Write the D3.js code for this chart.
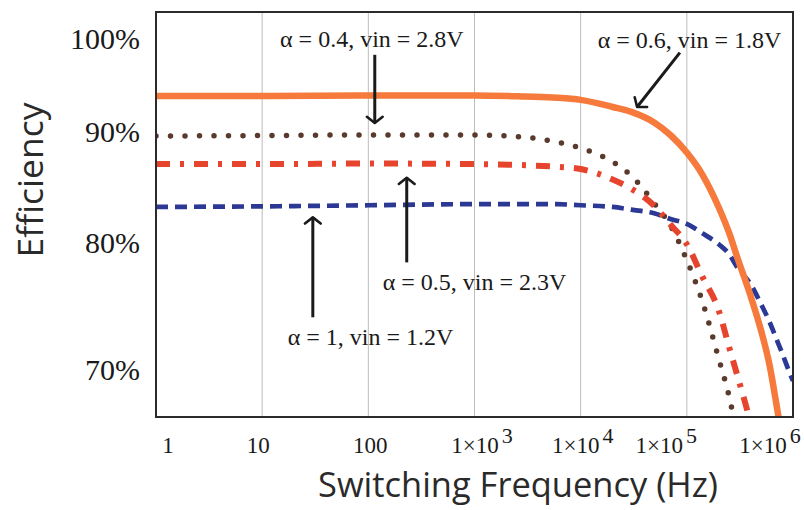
<!DOCTYPE html>
<html>
<head>
<meta charset="utf-8">
<script src="https://cdn.jsdelivr.net/npm/d3@7"></script>
<style>
  body { margin: 0; background: #fff; }
  svg { display: block; }
</style>
</head>
<body>
<svg id="chart" width="804" height="510"></svg>
<script>
// Efficiency (%) versus switching frequency (Hz) for four operating points.

// alpha = 0.6, vin = 1.8V  (solid orange)
const freqAlpha06 = [1, 10, 100, 1000, 3000, 6000, 1e4, 2e4, 3e4, 5e4, 7e4, 1e5, 1.4e5, 2e5, 2.5e5, 3e5, 4e5, 5e5, 6e5, 7e5, 7.4e5];
const effAlpha06  = [94.15, 94.15, 94.2, 94.2, 94.1, 94.0, 93.8, 93.15, 92.7, 91.7, 90.6, 89.0, 87.0, 84.0, 81.7, 79.4, 75.9, 72.8, 69.7, 66.0, 64.6];

// alpha = 0.4, vin = 2.8V  (dotted brown)
const freqAlpha04 = [1, 10, 100, 1000, 3000, 6000, 1e4, 2e4, 3e4, 5e4, 7e4, 1e5, 1.4e5, 2e5, 2.5e5, 2.8e5];
const effAlpha04  = [90.5, 90.55, 90.6, 90.6, 90.4, 89.95, 89.4, 88.15, 86.9, 84.3, 82.35, 79.2, 75.45, 70.2, 66.8, 64.6];

// alpha = 0.5, vin = 2.3V  (dash-dot red)
const freqAlpha05 = [1, 10, 100, 1000, 3000, 6000, 1e4, 2e4, 3e4, 5e4, 7e4, 1e5, 1.4e5, 2e5, 2.5e5, 3e5, 3.5e5, 3.8e5, 4e5];
const effAlpha05  = [87.95, 87.95, 88.0, 87.95, 87.85, 87.7, 87.5, 86.55, 85.7, 84.1, 82.45, 80.65, 77.7, 74.6, 71.3, 68.65, 66.4, 65.15, 64.4];

// alpha = 1, vin = 1.2V  (dashed blue)
const freqAlpha1 = [1, 10, 100, 1000, 3000, 6000, 1e4, 2e4, 3e4, 5e4, 7e4, 1e5, 1.4e5, 2e5, 2.5e5, 3e5, 4e5, 5e5, 6e5, 7e5, 8e5, 9e5, 1e6];
const effAlpha1  = [84.05, 84.1, 84.2, 84.3, 84.3, 84.3, 84.2, 84.05, 83.8, 83.45, 82.95, 82.5, 81.65, 80.65, 79.75, 78.5, 77.0, 75.2, 73.6, 72.0, 70.6, 69.3, 68.2];

// Axis ticks
const xTickValues = [1, 10, 100, 1e3, 1e4, 1e5, 1e6];
const xTickBase   = ["1", "10", "100", "1\u00d710", "1\u00d710", "1\u00d710", "1\u00d710"];
const xTickSup    = ["", "", "", "3", "4", "5", "6"];
const xGridValues = [10, 100, 1e3, 1e4, 1e5];
const yTickValues = [100, 90, 80, 70];
const yTickLabels = ["100%", "90%", "80%", "70%"];

// Callouts: label text, label anchor, arrow start and arrow tip (freq Hz, efficiency %)
const calloutText   = ["\u03b1 = 0.4, vin = 2.8V", "\u03b1 = 0.6, vin = 1.8V", "\u03b1 = 0.5, vin = 2.3V", "\u03b1 = 1, vin = 1.2V"];
const calloutLabel  = [[108, 98.6], [1.06e5, 98.5], [1000, 76.5], [105, 71.5]];
const calloutFrom   = [[115, 97.9], [8.6e4, 98.1], [230, 79.0], [30, 74.0]];
const calloutTip    = [[115, 91.7], [3.4e4, 93.15], [230, 86.7], [30, 83.1]];

// ---- layout ----
const plot = { left: 156, right: 793, top: 12, bottom: 417 };
const xLabelShift = [12, -4, 2, 7.5, 2, -20.5, -23];   // tick label nudges (px)
const yLabelShift = [7, -10, -8, 9];

const svg = d3.select("#chart");

const x = d3.scaleLog().domain([1, 1e6]).range([plot.left, plot.right]);
const y = d3.scaleLinear().domain([64.92, 101.8]).range([plot.bottom, plot.top]);

svg.append("rect").attr("width", 804).attr("height", 510).attr("fill", "#fff");

svg.append("defs").append("clipPath").attr("id", "plot-clip")
  .append("rect")
  .attr("x", plot.left).attr("y", plot.top)
  .attr("width", plot.right - plot.left).attr("height", plot.bottom - plot.top);

// vertical decade grid
svg.append("g").selectAll("line").data(xGridValues).join("line")
  .attr("x1", d => x(d)).attr("x2", d => x(d))
  .attr("y1", plot.top).attr("y2", plot.bottom)
  .attr("stroke", "#bdbdbd").attr("stroke-width", 1);

// curves
const series = [
  { f: freqAlpha1,  e: effAlpha1,  color: "#2c3994", width: 4.7, dash: "12 7",  cap: "butt" },
  { f: freqAlpha04, e: effAlpha04, color: "#5a3a2c", width: 5.5, dash: "0 14.5", cap: "round" },
  { f: freqAlpha05, e: effAlpha05, color: "#e6442d", width: 6,   dash: "14 10 4 10", cap: "butt" },
  { f: freqAlpha06, e: effAlpha06, color: "#f57a3b", width: 6.5, dash: null,  cap: "butt" }
];

const line = d3.line()
  .x(d => x(d[0]))
  .y(d => y(d[1]))
  .curve(d3.curveMonotoneX);

const curves = svg.append("g").attr("clip-path", "url(#plot-clip)");
series.forEach(s => {
  curves.append("path")
    .datum(d3.zip(s.f, s.e))
    .attr("d", line)
    .attr("fill", "none")
    .attr("stroke", s.color)
    .attr("stroke-width", s.width)
    .attr("stroke-linecap", s.cap)
    .attr("stroke-linejoin", "round")
    .attr("stroke-dasharray", s.dash);
});

// plot frame
svg.append("rect")
  .attr("x", plot.left).attr("y", plot.top)
  .attr("width", plot.right - plot.left).attr("height", plot.bottom - plot.top)
  .attr("fill", "none").attr("stroke", "#2b2b2b").attr("stroke-width", 2);

// x tick labels
const xLab = svg.append("g")
  .attr("font-family", "'Liberation Serif', 'Times New Roman', serif")
  .attr("font-size", 23).attr("fill", "#1a1a1a");
xTickValues.forEach((v, i) => {
  const t = xLab.append("text")
    .attr("x", x(v) + xLabelShift[i]).attr("y", 453)
    .attr("text-anchor", "middle");
  t.append("tspan").text(xTickBase[i]);
  if (xTickSup[i]) {
    t.append("tspan").attr("dx", 3).attr("dy", -10.5).attr("font-size", 22).text(xTickSup[i]);
  }
});

// y tick labels
svg.append("g")
  .attr("font-family", "'Liberation Serif', 'Times New Roman', serif")
  .attr("font-size", 30).attr("fill", "#1a1a1a")
  .selectAll("text").data(yTickValues).join("text")
  .attr("x", 140)
  .attr("y", (d, i) => y(d) + yLabelShift[i] + 10)
  .attr("text-anchor", "end")
  .text((d, i) => yTickLabels[i]);

// axis titles
svg.append("text")
  .attr("x", 518).attr("y", 497)
  .attr("text-anchor", "middle")
  .attr("font-family", "'Open Sans', 'Noto Sans', sans-serif")
  .attr("font-size", 35).attr("fill", "#2a2a2a")
  .attr("textLength", 400).attr("lengthAdjust", "spacingAndGlyphs")
  .text("Switching Frequency (Hz)");

svg.append("text")
  .attr("transform", "translate(43,180) rotate(-90)")
  .attr("text-anchor", "middle")
  .attr("font-family", "'Open Sans', 'Noto Sans', sans-serif")
  .attr("font-size", 35).attr("fill", "#2a2a2a")
  .attr("textLength", 155).attr("lengthAdjust", "spacingAndGlyphs")
  .text("Efficiency");

// callouts
const ann = svg.append("g");
calloutText.forEach((txt, i) => {
  ann.append("text")
    .attr("x", x(calloutLabel[i][0])).attr("y", y(calloutLabel[i][1]))
    .attr("text-anchor", "middle")
    .attr("font-family", "'Liberation Serif', 'Times New Roman', serif")
    .attr("font-size", 24).attr("fill", "#1a1a1a")
    .text(txt);

  const x0 = x(calloutFrom[i][0]), y0 = y(calloutFrom[i][1]);
  const x1 = x(calloutTip[i][0]),  y1 = y(calloutTip[i][1]);
  const ang = Math.atan2(y1 - y0, x1 - x0);
  const arm = 10, spread = 52 * Math.PI / 180;
  const ax = a => x1 - arm * Math.cos(a), ay = a => y1 - arm * Math.sin(a);
  ann.append("line")
    .attr("x1", x0).attr("y1", y0).attr("x2", x1).attr("y2", y1)
    .attr("stroke", "#1a1a1a").attr("stroke-width", 3);
  ann.append("path")
    .attr("d", `M${ax(ang - spread)},${ay(ang - spread)}L${x1},${y1}L${ax(ang + spread)},${ay(ang + spread)}`)
    .attr("fill", "none").attr("stroke", "#1a1a1a").attr("stroke-width", 2.6)
    .attr("stroke-linejoin", "round").attr("stroke-linecap", "round");
});
</script>
</body>
</html>
